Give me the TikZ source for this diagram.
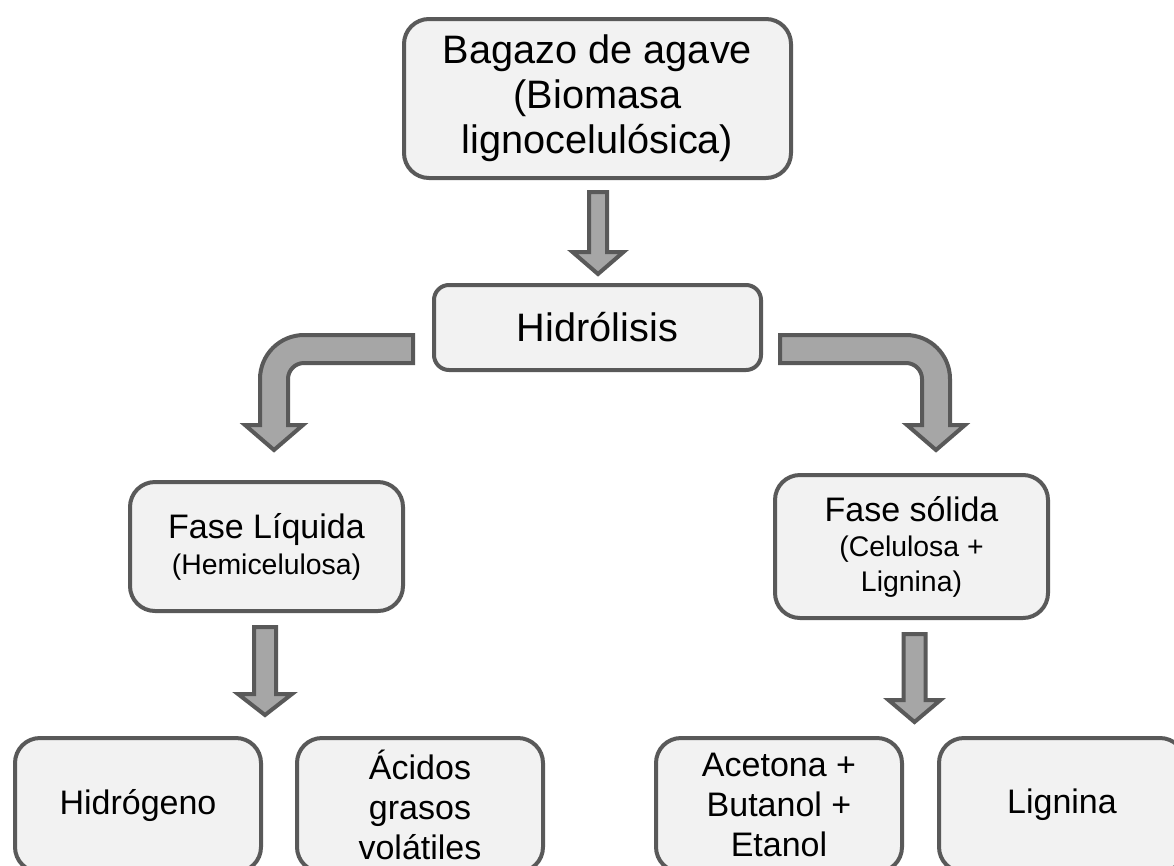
\documentclass[tikz,border=0pt]{standalone}
\usepackage{fontspec}
\setmainfont{Liberation Sans}
\usetikzlibrary{calc}
\definecolor{edgegray}{HTML}{595959}
\definecolor{arrowfill}{HTML}{A6A6A6}
\definecolor{boxfill}{HTML}{F2F2F2}
% straight downward block arrow: #1 start coord, #2 tip coord, #3 shaft half width, #4 head half width, #5 head length
\newcommand{\blockdown}[5]{%
  \draw[blockarr] ($(#1)+(-#3,0)$) -- ($(#2)+(-#3,-#5)$) -- ($(#2)+(-#4,-#5)$) -- (#2)
    -- ($(#2)+(#4,-#5)$) -- ($(#2)+(#3,-#5)$) -- ($(#1)+(#3,0)$) -- cycle;}
\begin{document}
\begin{tikzpicture}[x=1pt,y=-1pt,
  box/.style={draw=edgegray, fill=boxfill, line width=4pt, align=center, inner sep=0pt, text=black},
  blockarr/.style={draw=edgegray, fill=arrowfill, line width=4pt, line join=miter},
  bigfont/.style={font=\fontsize{39.7}{45}\selectfont},
  midfont/.style={font=\fontsize{34}{40}\selectfont},
  bottombox/.style={box, midfont, rounded corners=25pt, minimum width=246pt, minimum height=134pt}
]
\useasboundingbox (0,0) rectangle (1174,865);
\clip (0,0) rectangle (1174,865);

% boxes
\node[box, bigfont, rounded corners=25pt, minimum width=387pt, minimum height=159pt] (top) at (597.5,98.5)
  {Bagazo de agave\\(Biomasa\\lignocelulósica)};
\node[box, bigfont, rounded corners=15pt, minimum width=327pt, minimum height=85pt] (hid) at (597.5,327.5)
  {Hidrólisis};
\node[box, font=\fontsize{34}{36}\selectfont, rounded corners=25pt, minimum width=273pt, minimum height=129pt] (liq) at (266.5,546.5)
  {Fase Líquida\\{\fontsize{28.4}{36}\selectfont (Hemicelulosa)}};
\node[box, font=\fontsize{34}{35}\selectfont, rounded corners=25pt, minimum width=273pt, minimum height=143pt] (sol) at (911.5,546.5)
  {Fase sólida\\{\fontsize{28.4}{35}\selectfont (Celulosa +}\\{\fontsize{28.4}{35}\selectfont Lignina)}};
\node[bottombox] (hidr) at (138,805) {Hidrógeno};
\node[bottombox] (acid) at (420,805) {Ácidos\\grasos\\volátiles};
\node[bottombox] (acet) at (779,805) {Acetona +\\Butanol +\\Etanol};
\node[bottombox] (lig) at (1062,805) {Lignina};

% straight arrows (top -> hid, liq -> bottom, sol -> bottom)
\path (598,192) coordinate (a1s) (598,274) coordinate (a1t);
\blockdown{a1s}{a1t}{9}{25.5}{22}

\path (265,627) coordinate (a4s) (265,715) coordinate (a4t);
\blockdown{a4s}{a4t}{11}{27}{21}

\path (914.5,634) coordinate (a5s) (914.5,722) coordinate (a5t);
\blockdown{a5s}{a5t}{11}{26}{22}

% bent arrows (hid -> liq, hid -> sol)
\path (413,349) coordinate (bls) (274,450) coordinate (blt);
\draw[blockarr] ($(bls)+(0,-14)$) -- ($(blt)+(30,-115)$) arc[start angle=270,end angle=180,radius=44]
  -- ($(blt)+(-14,-25)$) -- ($(blt)+(-29,-25)$) -- (blt) -- ($(blt)+(29,-25)$) -- ($(blt)+(14,-25)$)
  -- ($(blt)+(14,-71)$) arc[start angle=180,end angle=270,radius=16] -- ($(bls)+(0,14)$) -- cycle;

\path (780,349) coordinate (brs) (936,450) coordinate (brt);
\draw[blockarr] ($(brs)+(0,-14)$) -- ($(brt)+(-30,-115)$) arc[start angle=270,end angle=360,radius=44]
  -- ($(brt)+(14,-25)$) -- ($(brt)+(29,-25)$) -- (brt) -- ($(brt)+(-29,-25)$) -- ($(brt)+(-14,-25)$)
  -- ($(brt)+(-14,-71)$) arc[start angle=360,end angle=270,radius=16] -- ($(brs)+(0,14)$) -- cycle;
\end{tikzpicture}
\end{document}
